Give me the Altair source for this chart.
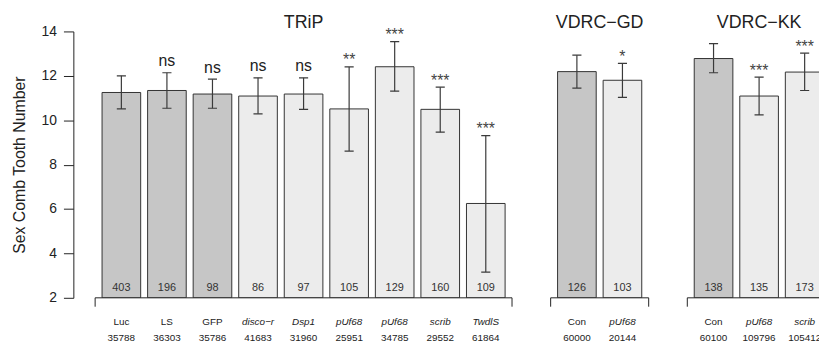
import altair as alt
import pandas as pd

# ---- data ----
names = ["Luc", "LS", "GFP", "disco\u2212r", "Dsp1", "pUf68", "pUf68", "scrib", "TwdlS",
         "Con", "pUf68", "Con", "pUf68", "scrib"]
stocks = ["35788", "36303", "35786", "41683", "31960", "25951", "34785", "29552", "61864",
          "60000", "20144", "60100", "109796", "105412"]
group = ["TRiP"] * 9 + ["VDRC\u2212GD"] * 2 + ["VDRC\u2212KK"] * 3
means = [11.25, 11.34, 11.18, 11.09, 11.18, 10.51, 12.41, 10.49, 6.25,
         12.19, 11.80, 12.78, 11.09, 12.17]
err_lo = [10.51, 10.54, 10.54, 10.29, 10.49, 8.61, 11.31, 9.46, 3.16,
          11.45, 11.03, 12.14, 10.24, 11.34]
err_hi = [12.00, 12.14, 11.85, 11.91, 11.91, 12.40, 13.54, 11.49, 9.31,
          12.93, 12.56, 13.45, 11.94, 13.02]
counts = [403, 196, 98, 86, 97, 105, 129, 160, 109, 126, 103, 138, 135, 173]
signif = ["", "ns", "ns", "ns", "ns", "**", "***", "***", "***", "", "*", "", "***", "***"]
control = [True, True, True, False, False, False, False, False, False,
           True, False, True, False, False]

groups = ["TRiP", "VDRC\u2212GD", "VDRC\u2212KK"]

# slot index: one empty slot between groups
slots = []
s = 0
prev = group[0]
for g in group:
    if g != prev:
        s += 1
        prev = g
    slots.append(s)
    s += 1

HALF = 0.424  # half bar width in slot units
df = pd.DataFrame({
    "slot": slots, "name": names, "stock": stocks, "group": group,
    "mean": means, "lo": err_lo, "hi": err_hi, "n": [str(c) for c in counts],
    "sig": signif, "control": control,
})
df["x0"] = df["slot"] - HALF
df["x1"] = df["slot"] + HALF
df["c0"] = df["slot"] - 0.1
df["c1"] = df["slot"] + 0.1
df["fill"] = ["ctrl" if c else "test" for c in control]
df["italic"] = [not c for c in control]
df["isns"] = [v == "ns" for v in signif]

gdf = pd.DataFrame({"group": groups})
gdf["first"] = [df[df.group == g].slot.min() for g in groups]
gdf["last"] = [df[df.group == g].slot.max() for g in groups]
gdf["left"] = gdf["first"] - 0.576
gdf["right"] = gdf["last"] + 0.576
gdf["center"] = (gdf["first"] + gdf["last"]) / 2
gdf.loc[gdf.group == "VDRC\u2212KK", "center"] = 14
ends = pd.DataFrame({"xe": list(gdf["left"]) + list(gdf["right"])})

FONT = "Liberation Sans"
INK = "#222222"
xsc = alt.Scale(domain=[-1.054, 15.315], nice=False, zero=False)
ysc = alt.Scale(domain=[2, 14], nice=False, zero=False)
X = lambda f: alt.X(f, type="quantitative", scale=xsc, axis=None)

base = alt.Chart(df)

bars = base.mark_bar(stroke="#333333", strokeWidth=1, clip=True).encode(
    x=X("x0"), x2="x2:Q" if False else alt.X2("x1"),
    y=alt.Y("mean:Q", scale=ysc,
            axis=alt.Axis(values=[2, 4, 6, 8, 10, 12, 14], title="Sex Comb Tooth Number",
                          grid=False, tickSize=10, labelPadding=7, labelFontSize=14,
                          labelFont=FONT, titleFont=FONT, titleFontSize=16,
                          titleFontWeight="normal", titlePadding=14,
                          labelColor=INK, titleColor=INK, tickColor=INK,
                          domainColor=INK, tickWidth=1, domainWidth=1)),
    y2=alt.datum(2),
    fill=alt.Fill("fill:N", scale=alt.Scale(domain=["ctrl", "test"],
                                            range=["#c6c6c6", "#ececec"]), legend=None),
)

err = base.mark_rule(color="#3a3a3a", strokeWidth=1.2, clip=True).encode(
    x=X("slot"), y=alt.Y("lo:Q", scale=ysc), y2="hi:Q")
cap_hi = base.mark_rule(color="#3a3a3a", strokeWidth=1.2, clip=True).encode(
    x=X("c0"), x2="c1:Q", y=alt.Y("hi:Q", scale=ysc))
cap_lo = base.mark_rule(color="#3a3a3a", strokeWidth=1.2, clip=True).encode(
    x=X("c0"), x2="c1:Q", y=alt.Y("lo:Q", scale=ysc))

ns_txt = base.transform_filter("datum.isns").mark_text(
    font=FONT, fontSize=16, color=INK, dy=-6.5, baseline="alphabetic").encode(
    x=X("slot"), y=alt.Y("hi:Q", scale=ysc), text="sig:N")
star_txt = base.transform_filter("!datum.isns && datum.sig != ''").mark_text(
    font=FONT, fontSize=16, color="#444444", dy=-1.5, baseline="alphabetic", clip=False).encode(
    x=X("slot"), y=alt.Y("hi:Q", scale=ysc), text="sig:N")

n_txt = base.mark_text(font=FONT, fontSize=11, color="#333333", dy=-6.5,
                       baseline="alphabetic").encode(
    x=X("slot"), y=alt.datum(2), text="n:N")

name_reg = base.transform_filter("!datum.italic").mark_text(
    font=FONT, fontSize=10, color=INK, dy=27.5, baseline="alphabetic").encode(
    x=X("slot"), y=alt.datum(2), text="name:N")
name_it = base.transform_filter("datum.italic").mark_text(
    font=FONT, fontSize=10, color=INK, dy=27.5, baseline="alphabetic",
    fontStyle="italic").encode(
    x=X("slot"), y=alt.datum(2), text="name:N")
stock_txt = base.mark_text(font=FONT, fontSize=10, color=INK, dy=43.5,
                           baseline="alphabetic").encode(
    x=X("slot"), y=alt.datum(2), text="stock:N")

gbase = alt.Chart(gdf)
bracket = gbase.mark_rule(color=INK, strokeWidth=1).encode(
    x=X("left"), x2="right:Q", y=alt.datum(2))
bracket_ends = alt.Chart(ends).mark_rule(color=INK, strokeWidth=1).encode(
    x=X("xe"), y=alt.datum(2), y2=alt.datum(1.6))
titles = gbase.mark_text(font=FONT, fontSize=18, color=INK, dy=-3.5,
                         baseline="alphabetic").encode(
    x=X("center"), y=alt.datum(14), text="group:N")

chart = alt.layer(
    bars, err, cap_hi, cap_lo, ns_txt, star_txt, n_txt, name_reg, name_it, stock_txt,
    bracket, bracket_ends, titles,
).properties(
    width=753, height=269,
    autosize=alt.AutoSizeParams(type="none"),
    padding={"left": 66, "top": 22, "right": 0, "bottom": 48},
    background="white",
).configure_view(stroke=None)

chart.save("out.html", embed_options={"renderer": "svg", "actions": False})
